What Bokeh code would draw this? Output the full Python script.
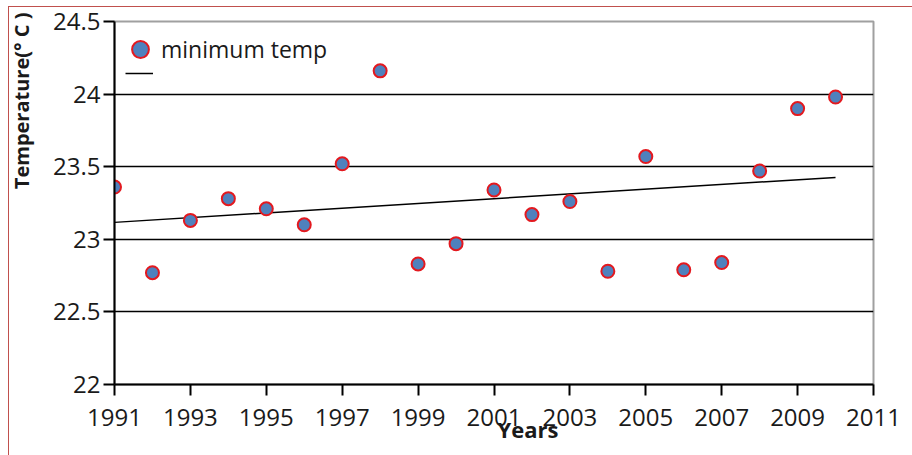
import numpy as np
from bokeh.plotting import figure
from bokeh.models import (Range1d, FixedTicker, Legend, LegendItem, Title,
                          ColumnDataSource, InlineStyleSheet)
from bokeh.embed import file_html
from bokeh.resources import INLINE

years = [1991, 1992, 1993, 1994, 1995, 1996, 1997, 1998, 1999, 2000,
         2001, 2002, 2003, 2004, 2005, 2006, 2007, 2008, 2009, 2010]
min_temp = [23.36, 22.77, 23.13, 23.28, 23.21, 23.10, 23.52, 24.16, 22.83, 22.97,
            23.34, 23.17, 23.26, 22.78, 23.57, 22.79, 22.84, 23.47, 23.90, 23.98]
x_ticks = [1991, 1993, 1995, 1997, 1999, 2001, 2003, 2005, 2007, 2009, 2011]
y_ticks = [22, 22.5, 23, 23.5, 24, 24.5]
series_label = "minimum temp"
x_title = "Years"
y_title = "Temperature(° C )"

FONT = "Open Sans"

p = figure(width=912, height=455, output_backend="svg", toolbar_location=None,
           x_range=Range1d(1991, 2011), y_range=Range1d(22, 24.5),
           min_border_left=114, min_border_right=39, min_border_top=21,
           min_border_bottom=71)
p.background_fill_color = "white"
p.border_fill_color = "white"
p.outline_line_color = "#a0a0a0"
p.outline_line_width = 2

# grid
p.xgrid.visible = False
p.ygrid.ticker = FixedTicker(ticks=y_ticks)
p.ygrid.grid_line_color = "black"
p.ygrid.grid_line_width = 1.5

# axes
for ax in (p.xaxis[0], p.yaxis[0]):
    ax.axis_line_color = "black"
    ax.axis_line_width = 2
    ax.major_tick_line_color = "black"
    ax.major_tick_line_width = 2
    ax.major_tick_out = 11
    ax.major_tick_in = 0
    ax.minor_tick_line_color = None
    ax.major_label_text_font = FONT
    ax.major_label_text_font_size = "24px"
    ax.major_label_text_color = "#1a1a1a"
p.xaxis.ticker = FixedTicker(ticks=x_ticks)
p.yaxis.ticker = FixedTicker(ticks=y_ticks)
p.xaxis.major_label_standoff = 13
p.yaxis.major_label_standoff = 3
p.yaxis.major_label_overrides = {22: "22", 23: "23", 24: "24"}
# spacer between tick labels and the rotated title
p.yaxis.axis_label = " "
p.yaxis.axis_label_text_font_size = "9px"
p.yaxis.axis_label_standoff = 0

# data
src = ColumnDataSource(dict(x=years, y=min_temp))
coef = np.polyfit(years, min_temp, 1)
tx = [years[0], years[-1]]
ty = list(np.polyval(coef, tx))
trend = p.line(tx, ty, line_color="black", line_width=1.5)
pts = p.scatter("x", "y", source=src, size=13, fill_color="#4f81bd",
                line_color="#e3191f", line_width=2)

common = dict(border_line_color=None, background_fill_alpha=0,
              label_text_font=FONT, label_text_font_size="23px",
              label_text_color="#1a1a1a", padding=0, margin=0, spacing=0)
leg1 = Legend(items=[LegendItem(label=series_label, renderers=[pts])],
              location=(5, 314), glyph_width=42, glyph_height=42,
              label_standoff=-3, **common)
leg2 = Legend(items=[LegendItem(label=" ", renderers=[trend])],
              location=(11, 301), glyph_width=28, glyph_height=20,
              label_standoff=0, label_height=20, **common)
p.add_layout(leg1, "center")
p.add_layout(leg2, "center")

# axis titles
yt = Title(text=y_title, align="right", offset=-9, text_font=FONT,
           text_font_size="20px", text_font_style="bold", text_color="#1a1a1a",
           standoff=6)
p.add_layout(yt, "left")
xt = Title(text=x_title, align="left", offset=383, text_font=FONT,
           text_font_size="22px", text_font_style="bold", text_color="#1a1a1a",
           vertical_align="middle", standoff=-34)
p.add_layout(xt, "below")

p.stylesheets = [InlineStyleSheet(css=""":host::after { content: ""; position: absolute;
 left: 8px; top: 6px; right: 0; bottom: 0; border-left: 1px solid #c0504d;
 border-top: 1px solid #c0504d; pointer-events: none; }""")]

open("out.html", "w").write(file_html(p, INLINE))
